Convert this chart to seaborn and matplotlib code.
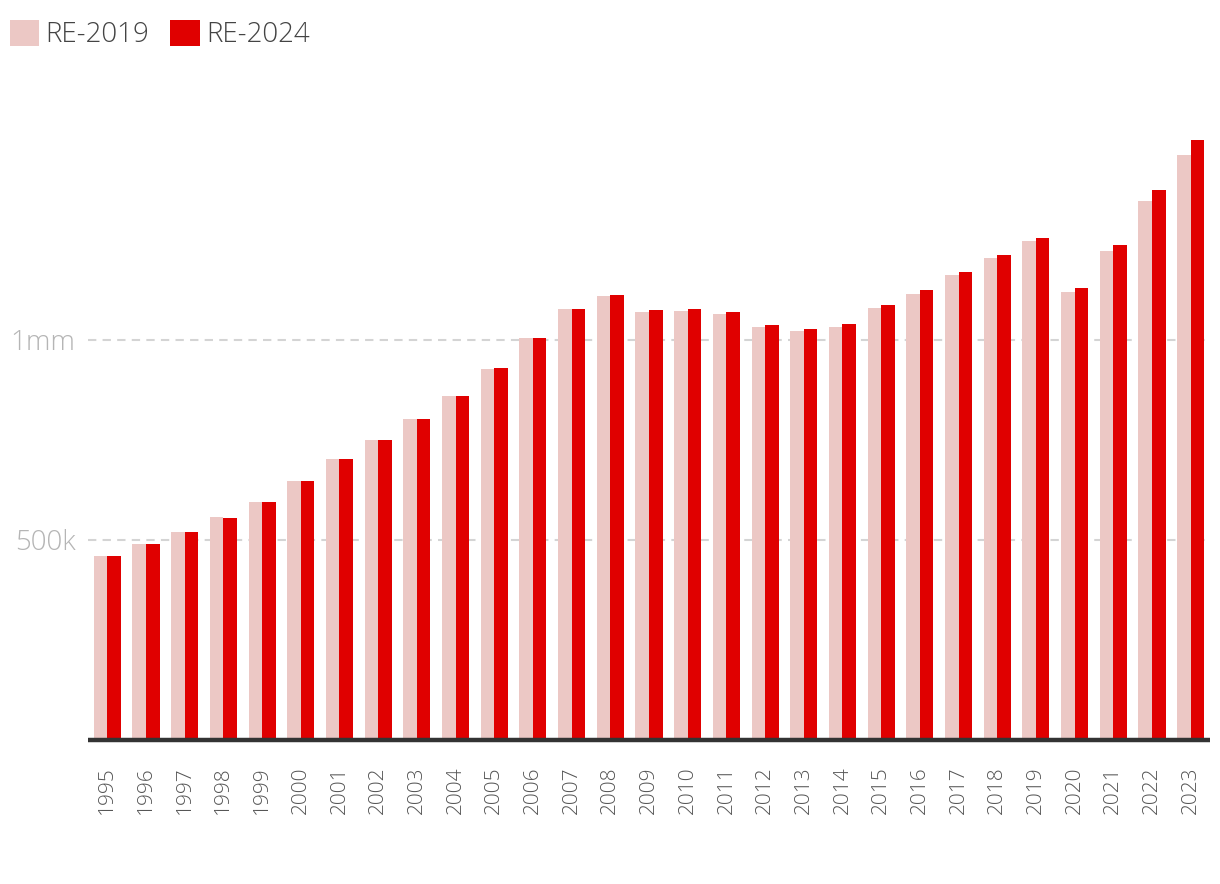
import matplotlib
matplotlib.use("Agg")
import matplotlib.pyplot as plt
import seaborn as sns
import pandas as pd
from matplotlib.patches import Patch

years = [str(y) for y in range(1995, 2024)]
re_2019 = [460e3, 490e3, 520e3, 557.5e3, 595e3, 647.5e3, 702.5e3, 750e3, 802.5e3, 860e3,
           927.5e3, 1005e3, 1077.5e3, 1110e3, 1070e3, 1072.5e3, 1065e3, 1032.5e3, 1022.5e3, 1032.5e3,
           1080e3, 1115e3, 1162.5e3, 1205e3, 1247.5e3, 1120e3, 1222.5e3, 1347.5e3, 1462.5e3]
re_2024 = [460e3, 490e3, 520e3, 555e3, 595e3, 647.5e3, 702.5e3, 750e3, 802.5e3, 860e3,
           930e3, 1005e3, 1077.5e3, 1112.5e3, 1075e3, 1077.5e3, 1070e3, 1037.5e3, 1027.5e3, 1040e3,
           1087.5e3, 1125e3, 1170e3, 1212.5e3, 1255e3, 1130e3, 1237.5e3, 1375e3, 1500e3]
series_names = ["RE-2019", "RE-2024"]
colors = ["#ecc8c5", "#e00000"]

df = pd.DataFrame({
    "year": years * 2,
    "value": re_2019 + re_2024,
    "series": [series_names[0]] * len(years) + [series_names[1]] * len(years),
})

sns.set_theme(style="white")
plt.rcParams['font.family'] = ['Open Sans', 'DejaVu Sans']

fig = plt.figure(figsize=(12.2, 8.84), dpi=100)
ax = fig.add_axes([88/1220, 144/884, 1122/1220, 640/884])

sns.barplot(data=df, x="year", y="value", hue="series", palette=colors,
            width=0.7, saturation=1, ax=ax, legend=False, linewidth=0, edgecolor="none")

ax.set_xlim(-0.5, len(years) - 0.5)
ax.set_ylim(0, 1.6e6)
ax.set_yticks([500e3, 1e6])
ax.set_yticklabels(["500k", "1mm"])
for y in [500e3, 1e6]:
    ax.axhline(y, color="#d4d4d4", lw=1.5, ls=(0, (4, 3)), zorder=0)
ax.axhline(0, color="#333333", lw=3.2, zorder=5, clip_on=False, solid_capstyle="butt")

for s in ax.spines.values():
    s.set_visible(False)
ax.set_xlabel("")
ax.set_ylabel("")
ax.tick_params(axis="y", length=0, pad=9, labelsize=20, labelcolor="#b5b5b5")
ax.tick_params(axis="x", length=0, pad=19, labelsize=15, labelcolor="#555555", rotation=90)
for t in ax.get_yticklabels() + ax.get_xticklabels():
    t.set_fontweight("light")

handles = [Patch(facecolor=c, edgecolor="none") for c in colors]
leg = fig.legend(handles, series_names, loc="upper left", bbox_to_anchor=(4/1220, 1 - 14/884),
                 ncol=2, frameon=False, fontsize=20, handlelength=1.05, handleheight=1.1,
                 handletextpad=0.25, columnspacing=0.75, borderaxespad=0, borderpad=0.2)
for t in leg.get_texts():
    t.set_color("#444444")
    t.set_fontweight("light")

fig.savefig("out.png", dpi=100)
